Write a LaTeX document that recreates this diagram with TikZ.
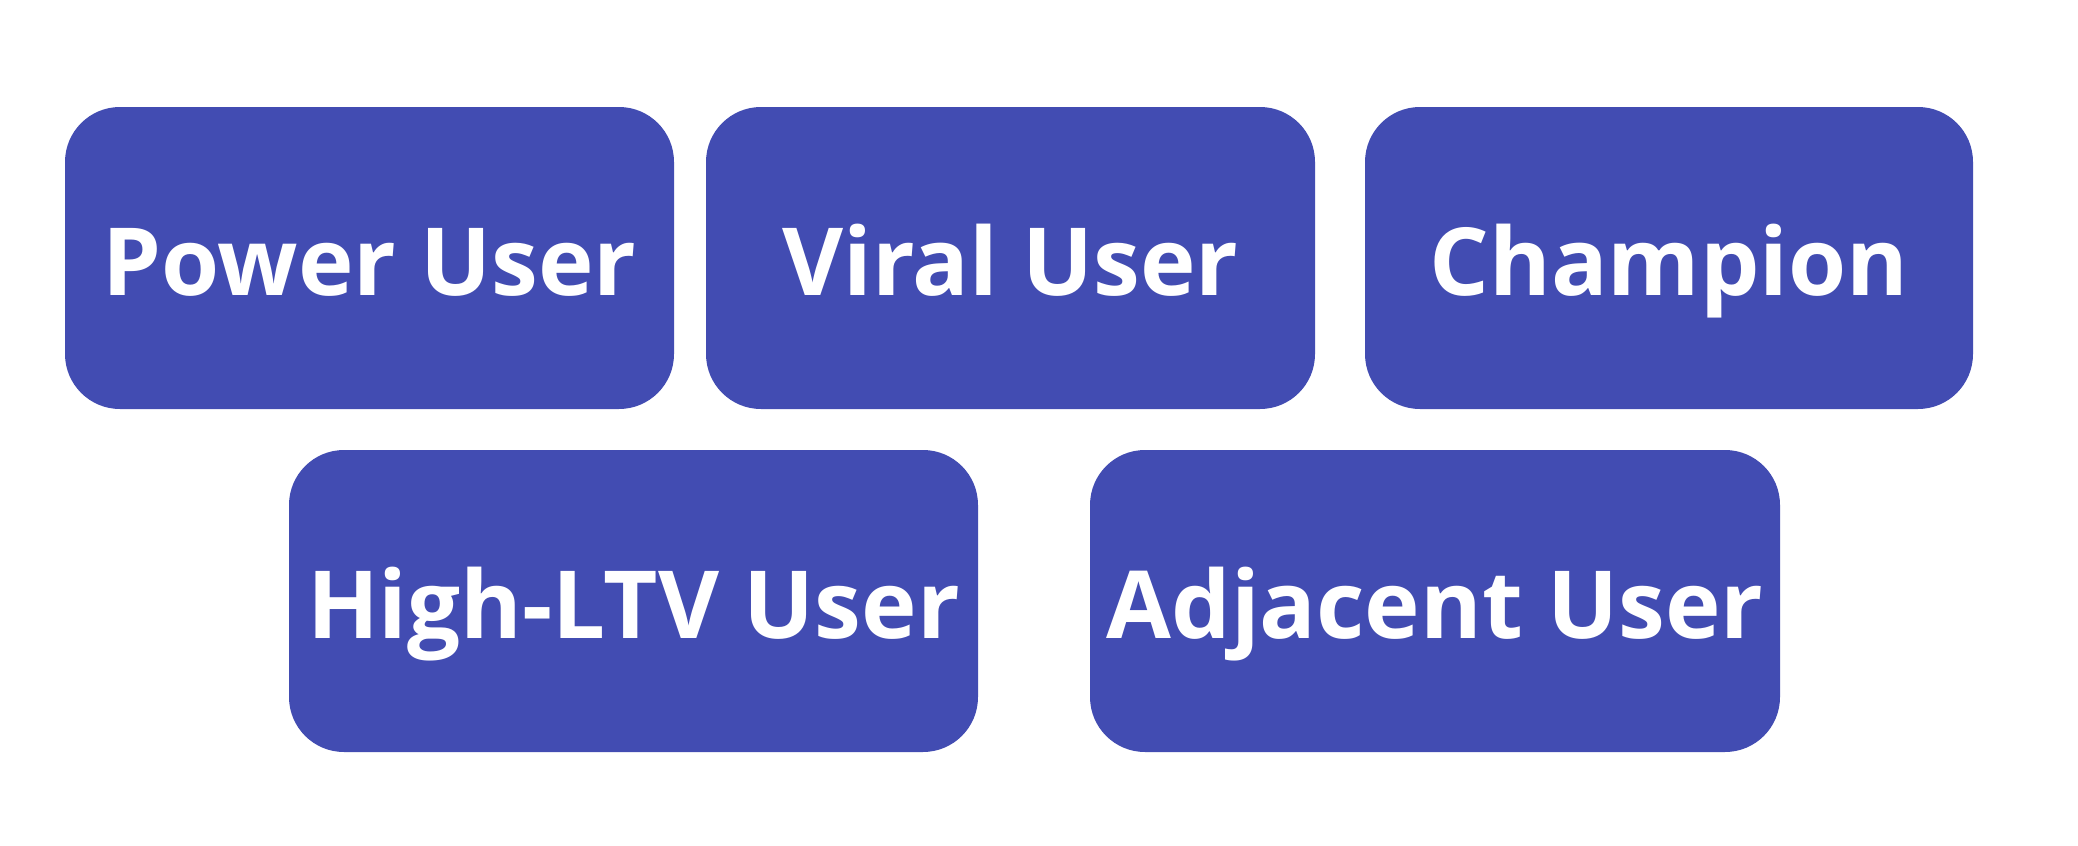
\documentclass[tikz,border=0pt]{standalone}
\usepackage{fontspec}
\setmainfont{Open Sans}[BoldFont={* Bold}]
\definecolor{boxblue}{RGB}{66,76,178}
\begin{document}
\begin{tikzpicture}[x=1pt,y=-1pt,
  card/.style={fill=boxblue, draw=none, rounded corners=55pt},
  lbl/.style={text=white, font=\fontsize{94}{110}\selectfont\bfseries, anchor=base, inner sep=0pt}]
\useasboundingbox (0,0) rectangle (2078,846);
\fill[white] (0,0) rectangle (2078,846);
% top row
\path[card] (65,107) rectangle (674,409);
\path[card] (706,107) rectangle (1315,409);
\path[card] (1365,107) rectangle (1973,409);
% bottom row
\path[card] (289,450) rectangle (978,752);
\path[card] (1090,450) rectangle (1780,752);
\node[lbl] (power) at (369.5,295) {Power User};
\node[lbl] (viral) at (1010.5,295) {Viral User};
\node[lbl] (champ) at (1669,295) {Champion};
\node[lbl] (ltv) at (633.5,638) {High-LTV User};
\node[lbl] (adj) at (1435,638) {Adjacent User};
\end{tikzpicture}
\end{document}
